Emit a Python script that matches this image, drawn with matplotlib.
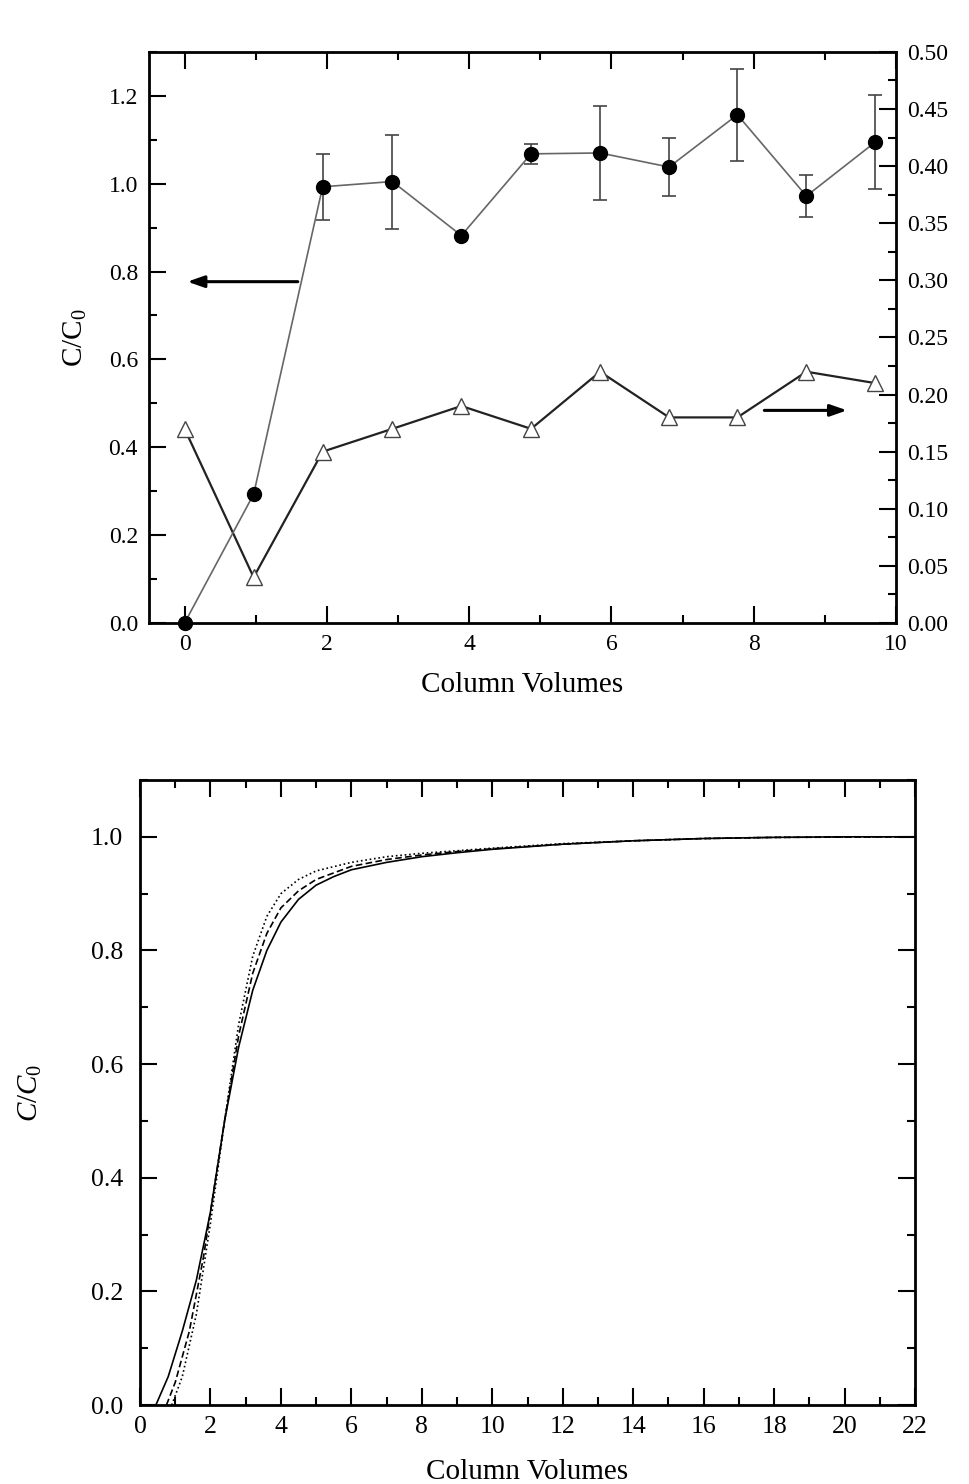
import matplotlib
matplotlib.use("Agg")
import matplotlib.pyplot as plt
from matplotlib.ticker import MultipleLocator, FormatStrFormatter

plt.rcParams['font.family'] = ['Liberation Serif', 'DejaVu Serif']
plt.rcParams['mathtext.fontset'] = 'custom'
plt.rcParams['mathtext.rm'] = 'Liberation Serif'
plt.rcParams['mathtext.it'] = 'Liberation Serif:italic'

# ---------------- data: top panel ----------------
cv_top = [0.0, 0.97, 1.94, 2.92, 3.89, 4.87, 5.84, 6.81, 7.77, 8.74, 9.71]
c_ratio = [0.0, 0.293, 0.993, 1.005, 0.882, 1.068, 1.070, 1.038, 1.157, 0.972, 1.095]
c_err = [0.0, 0.0, 0.075, 0.107, 0.0, 0.022, 0.107, 0.066, 0.105, 0.048, 0.107]
right_vals = [0.17, 0.04, 0.15, 0.17, 0.19, 0.17, 0.22, 0.18, 0.18, 0.22, 0.21]
arrow_left = [(1.63, 0.777), (0.0, 0.777)]
arrow_right = [(8.11, 0.484), (9.35, 0.484)]

# ---------------- data: bottom panel ----------------
solid_x = [0.45, 0.8, 1.2, 1.6, 2.0, 2.4, 2.8, 3.2, 3.6, 4.0, 4.5, 5.0, 5.5, 6.0, 7.0, 8.0, 9.0, 10.0, 12.0, 14.0, 16.0, 18.0, 20.0, 22.0]
solid_y = [0.0, 0.05, 0.13, 0.22, 0.34, 0.50, 0.63, 0.73, 0.80, 0.85, 0.89, 0.915, 0.93, 0.942, 0.955, 0.965, 0.972, 0.978, 0.987, 0.993, 0.997, 0.999, 1.0, 1.0]
dash_x = [0.75, 1.0, 1.4, 1.8, 2.2, 2.4, 2.8, 3.2, 3.6, 4.0, 4.5, 5.0, 6.0, 7.0, 8.0, 9.0, 10.0, 12.0, 14.0, 16.0, 18.0, 22.0]
dash_y = [0.0, 0.04, 0.13, 0.26, 0.42, 0.50, 0.65, 0.76, 0.83, 0.875, 0.905, 0.925, 0.948, 0.96, 0.968, 0.974, 0.979, 0.987, 0.993, 0.997, 0.999, 1.0]
dot_x = [0.9, 1.2, 1.6, 2.0, 2.4, 2.8, 3.2, 3.6, 4.0, 4.5, 5.0, 6.0, 7.0, 8.0, 10.0, 12.0, 14.0, 16.0, 18.0, 22.0]
dot_y = [0.0, 0.05, 0.16, 0.32, 0.50, 0.67, 0.79, 0.86, 0.90, 0.925, 0.94, 0.955, 0.965, 0.971, 0.98, 0.988, 0.993, 0.997, 0.999, 1.0]

TICK_FS = 17
LABEL_FS = 21

fig = plt.figure(figsize=(9.69, 14.84), dpi=100)

def style_ticks(ax, fs, left=True, right=True, top=True, bottom=True):
    ax.tick_params(which='both', direction='in', width=1.5,
                   left=left, right=right, top=top, bottom=bottom,
                   labelsize=fs, pad=8)
    ax.tick_params(which='major', length=12)
    ax.tick_params(which='minor', length=6)
    for s in ax.spines.values():
        s.set_linewidth(2)

# ---------------- top panel ----------------
ax1 = fig.add_axes([0.1538, 0.5802, 0.7709, 0.3848])
ax1.errorbar(cv_top, c_ratio, yerr=[e if e > 0 else float('nan') for e in c_err],
             fmt='none', ecolor='#444444', elinewidth=1.2, capsize=5, capthick=1.2, zorder=2)
ax1.plot(cv_top, c_ratio, '-', color='#666666', lw=1.2, marker='o', ms=10,
         mfc='black', mec='black', zorder=4, clip_on=False)
ax1.set_xlim(-0.5, 10)
ax1.set_ylim(0, 1.3)
ax1.xaxis.set_major_locator(MultipleLocator(2))
ax1.xaxis.set_minor_locator(MultipleLocator(1))
ax1.yaxis.set_major_locator(MultipleLocator(0.2))
ax1.yaxis.set_minor_locator(MultipleLocator(0.1))
ax1.yaxis.set_major_formatter(FormatStrFormatter('%.1f'))
style_ticks(ax1, TICK_FS, right=False)
ax1.set_xlabel('Column Volumes', fontsize=LABEL_FS, labelpad=12)
ax1.set_ylabel(r'C/C$_0$', fontsize=LABEL_FS, labelpad=14)

ax1.annotate('', xy=arrow_left[1], xytext=arrow_left[0],
             arrowprops=dict(arrowstyle='-|>,head_length=1.0,head_width=0.35', color='black', lw=2.2))
ax1.annotate('', xy=arrow_right[1], xytext=arrow_right[0],
             arrowprops=dict(arrowstyle='-|>,head_length=1.0,head_width=0.35', color='black', lw=2.2))

ax2 = ax1.twinx()
ax2.plot(cv_top, right_vals, '-', color='#222222', lw=1.6, marker='^', ms=12,
         mfc='white', mec='#444444', mew=1.0, zorder=5)
ax2.set_ylim(0, 0.5)
ax2.yaxis.set_major_locator(MultipleLocator(0.05))
ax2.yaxis.set_minor_locator(MultipleLocator(0.025))
ax2.yaxis.set_major_formatter(FormatStrFormatter('%.2f'))
ax2.tick_params(which='both', direction='in', width=1.5, labelsize=TICK_FS, pad=8)
ax2.tick_params(which='major', length=12)
ax2.tick_params(which='minor', length=6)
ax1.set_zorder(ax2.get_zorder() + 1)
ax1.patch.set_visible(False)

# ---------------- bottom panel ----------------
ax3 = fig.add_axes([0.1445, 0.0532, 0.7998, 0.4212])
ax3.plot(solid_x, solid_y, '-', color='black', lw=1.2)
ax3.plot(dash_x, dash_y, '--', color='black', lw=1.2, dashes=(4, 2))
ax3.plot(dot_x, dot_y, ':', color='black', lw=1.2)
ax3.set_xlim(0, 22)
ax3.set_ylim(0, 1.1)
ax3.xaxis.set_major_locator(MultipleLocator(2))
ax3.xaxis.set_minor_locator(MultipleLocator(1))
ax3.yaxis.set_major_locator(MultipleLocator(0.2))
ax3.yaxis.set_minor_locator(MultipleLocator(0.1))
ax3.yaxis.set_major_formatter(FormatStrFormatter('%.1f'))
style_ticks(ax3, 18.5)
ax3.tick_params(axis='y', pad=12)
ax3.set_xlabel('Column Volumes', fontsize=LABEL_FS, labelpad=15)
ax3.set_ylabel(r'$\mathit{C/C}_{\mathit{0}}$', fontsize=LABEL_FS, labelpad=34)

fig.savefig('out.png', dpi=100)
